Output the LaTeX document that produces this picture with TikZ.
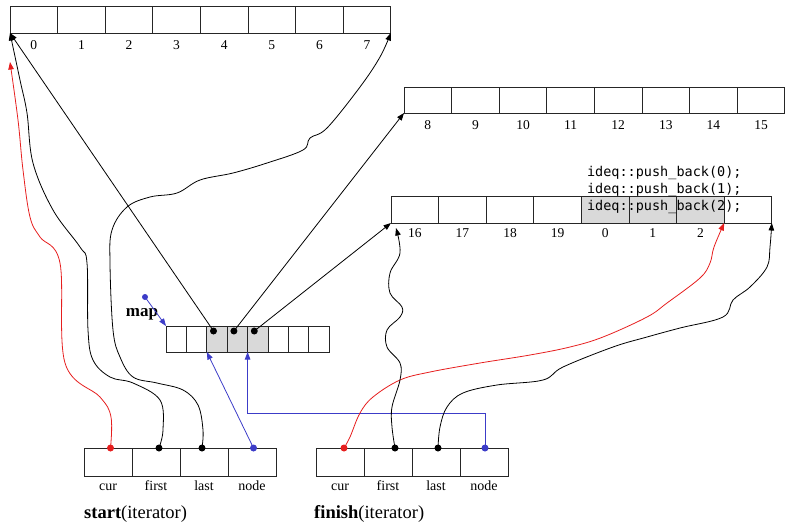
\documentclass[tikz,border=0pt]{standalone}
\usepackage{fontspec}
\setmainfont{Liberation Serif}
\newfontfamily\codefont{DejaVu Sans Mono}
\usetikzlibrary{arrows.meta, positioning, calc}
\definecolor{ptrred}{RGB}{230,30,30}
\definecolor{ptrblue}{RGB}{60,60,200}

\begin{document}
\begin{tikzpicture}[x=1pt, y=-1pt,
    cell/.style={rectangle, draw=black!85, line width=1pt, minimum width=47.6pt, minimum height=27pt, inner sep=0pt, outer sep=0pt},
    mapcell/.style={cell, minimum width=20.4pt, minimum height=26pt},
    itcell/.style={cell, minimum width=48pt, minimum height=28pt},
    used/.style={fill=black!15},
    none/.style={},
    num/.style={font=\fontsize{13.5}{15}\selectfont, inner sep=0pt, text height=9pt},
    field/.style={font=\fontsize{14}{16}\selectfont, inner sep=0pt, text height=9pt},
    caption/.style={font=\fontsize{18.5}{21}\selectfont, inner sep=0pt, anchor=base west},
    code/.style={font=\codefont\fontsize{13.5}{16.7}\selectfont, inner sep=0pt, align=left},
    dot/.style={circle, fill, inner sep=0pt, minimum size=7pt},
    ptr/.style={line width=0.8pt, -{Triangle[length=7.5pt, width=5.5pt]}},
    wavy/.style={ptr, smooth, tension=0.6}]
    \useasboundingbox (0,0) rectangle (793,531);

    % buffers
    \foreach \i in {0,...,7}
        \node[cell, label={[num, label distance=7.5pt]below:\i}] (a\i) at ({33.8+47.6*\i}, 19.5) {};
    \foreach \i [evaluate=\i as \n using int(\i+8)] in {0,...,7}
        \node[cell, minimum height=26pt, label={[num, label distance=7pt]below:\n}] (b\i) at ({427.8+47.6*\i}, 100) {};
    \foreach \t/\s [count=\i from 0] in {16/none,17/none,18/none,19/none,0/used,1/used,2/used}
        \node[cell, \s, label={[num, label distance=5pt]below:\t}] (c\i) at ({414.8+47.6*\i}, 209.5) {};
    \node[cell, right=0pt of c6] (c7) {};
    \node[code, anchor=north west] (pushes) at ([xshift=5.5pt, yshift=29.5pt]c4.north west)
        {ideq::push\_back(0);\\ideq::push\_back(1);\\ideq::push\_back(2);};

    % map
    \foreach \s [count=\i from 0] in {none,none,used,used,used,none,none,none}
        \node[mapcell, \s] (m\i) at ({176.2+20.4*\i}, 339) {};
    \foreach \i in {2,3,4}
        \node[dot] (p\i) at ([xshift=-3.5pt, yshift=-5pt]m\i.north) {};
    \node[dot, ptrblue, minimum size=6pt] (mapdot) at (145,297) {};
    \node[font=\bfseries\fontsize{17}{20}\selectfont, inner sep=0pt, anchor=base] (maplabel) at (142,316) {map};

    % iterators
    \foreach \t [count=\i from 0] in {cur,first,last,node} {
        \node[itcell, label={[field, label distance=5.7pt]below:\t}] (s\i) at ({108+48*\i}, 462) {};
        \node[itcell, label={[field, label distance=5.7pt]below:\t}] (f\i) at ({340+48*\i}, 462) {};
    }
    \node[caption] (startcap) at ([yshift=-42pt]s0.south west) {\textbf{start}(iterator)};
    \node[caption] (finishcap) at ([xshift=-2pt, yshift=-42pt]f0.south west) {\textbf{finish}(iterator)};
    \node[dot, ptrred] (scur) at ([xshift=2.5pt]s0.north) {};
    \node[dot] (sfirst) at ([xshift=3pt]s1.north) {};
    \node[dot] (slast) at ([xshift=-2pt]s2.north) {};
    \node[dot, ptrblue] (snode) at ([xshift=1.5pt]s3.north) {};
    \node[dot, ptrred] (fcur) at ([xshift=4pt]f0.north) {};
    \node[dot] (ffirst) at ([xshift=7pt]f1.north) {};
    \node[dot] (flast) at ([xshift=2pt]f2.north) {};
    \node[dot, ptrblue] (fnode) at ([xshift=1pt]f3.north) {};

    % pointers
    \draw[ptr] (p2.center) -- (a0.south west);
    \draw[ptr] (p3.center) -- (b0.south west);
    \draw[ptr] (p4.center) -- (c0.south west);
    \draw[ptr, ptrblue] (mapdot.center) -- (m0.north west);
    \draw[ptr, ptrblue] (snode.center) -- (m2.south west);
    \draw[ptr, ptrblue] (fnode.center) -- ++(0,-35) -| (m4.south west);

    \coordinate (redend) at ([yshift=-29pt]a0.south west);
    \coordinate (c0end) at ([xshift=5pt, yshift=-5pt]c0.south west);
    \draw[wavy, ptrred] plot coordinates {(scur.center) (111,417) (100,397) (65,363) (60,263) (40,237) (30,217) (23,170) (18,120) (redend)};
    \draw[wavy] plot coordinates {(sfirst.center) (163,430) (160,400) (133,383) (110,377) (93,360) (88,330) (87,263) (80,247) (53,210) (33,163) (27,113) (20,80) (a0.south west)};
    \draw[wavy] plot coordinates {(slast.center) (203,430) (198,405) (183,390) (157,383) (133,377) (120,357) (113,330) (110,263) (112,230) (127,207) (150,197) (177,193) (200,180) (233,173) (267,163) (303,150) (310,138) (327,128) (360,87) (380,57) (a7.south east)};
    \draw[wavy, ptrred] plot coordinates {(fcur.center) (350,437) (360,413) (373,397) (400,380) (430,372) (480,363) (530,355) (570,347) (603,337) (647,317) (667,303) (700,278) (710,263) (714,247) (c6.south east)};
    \draw[wavy] plot coordinates {(ffirst.center) (392,427) (392,407) (400,380) (400,363) (387,347) (387,330) (400,317) (402,307) (390,293) (390,273) (400,253) (c0end)};
    \draw[wavy] plot coordinates {(flast.center) (440,427) (447,407) (463,393) (497,385) (543,380) (563,367) (613,347) (647,337) (680,328) (723,317) (733,300) (750,287) (767,267) (770,247) (c7.south east)};
\end{tikzpicture}
\end{document}
